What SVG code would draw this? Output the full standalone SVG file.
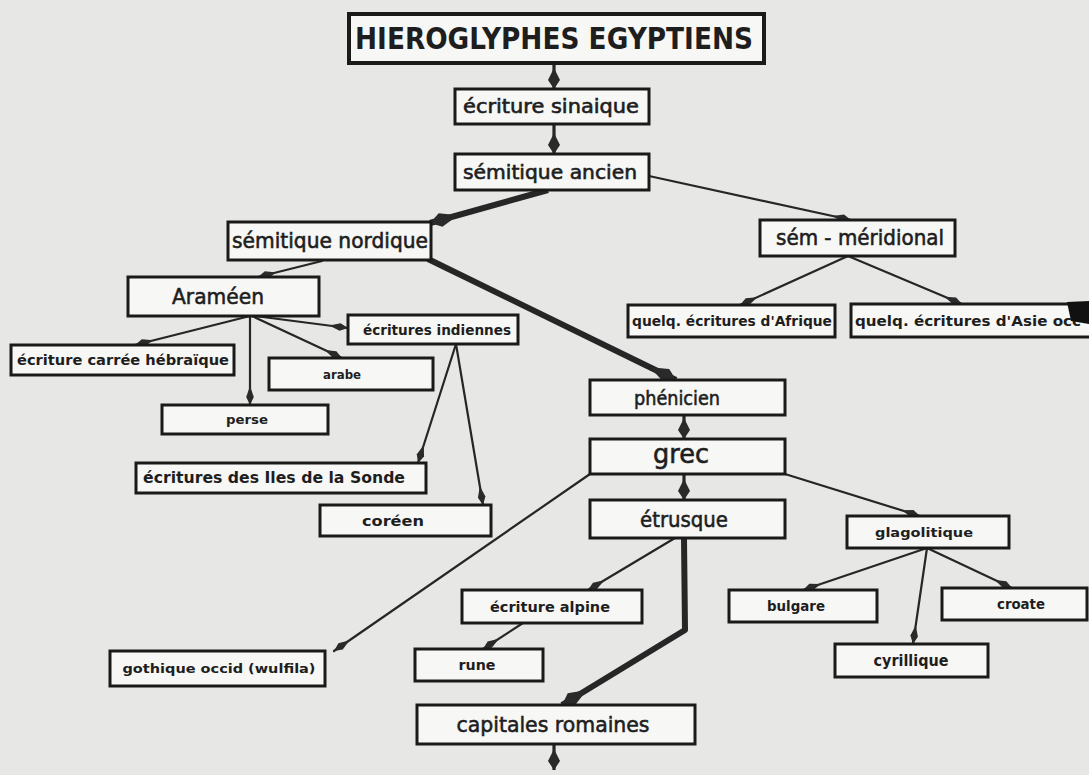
<svg xmlns="http://www.w3.org/2000/svg" width="1089" height="775" viewBox="0 0 1089 775">
<defs>
<style>
.bx{fill:#f7f7f5;stroke:#1a1a1a;stroke-width:3}
.t{font-family:"DejaVu Sans",sans-serif;fill:#1e1e1e;text-anchor:middle}
.b{font-weight:bold}
.m{stroke:#1e1e1e;stroke-width:0.6}
.ln{fill:none;stroke:#262626;stroke-width:2.2;stroke-linecap:round}
.md{fill:none;stroke:#262626;stroke-width:3.2}
.tk{fill:none;stroke:#262626;stroke-width:6;stroke-linejoin:round}
</style>
<marker id="as" markerUnits="userSpaceOnUse" viewBox="-20 -5 22 10" refX="0" refY="0" markerWidth="22" markerHeight="10" orient="auto"><path d="M0,0 L-8,-3.8 L-19,0 L-8,3.8 Z" fill="#2a2a2a"/></marker>
<marker id="am" markerUnits="userSpaceOnUse" viewBox="-22 -7 24 14" refX="0" refY="0" markerWidth="24" markerHeight="14" orient="auto"><path d="M0,0 L-9,-6 L-21,0 L-9,6 Z" fill="#2a2a2a"/></marker>
<marker id="al" markerUnits="userSpaceOnUse" viewBox="-30 -8 32 16" refX="0" refY="0" markerWidth="32" markerHeight="16" orient="auto"><path d="M0,0 L-11,-7 L-29,0 L-11,7 Z" fill="#2a2a2a"/></marker>
</defs>
<rect x="0" y="0" width="1089" height="775" fill="#e7e7e5"/>

<g id="connectors">
<line class="md" x1="554" y1="63" x2="554" y2="89" marker-end="url(#am)"/>
<line class="md" x1="554" y1="124" x2="554" y2="154" marker-end="url(#am)"/>
<line class="tk" x1="548" y1="190" x2="430" y2="223" marker-end="url(#al)"/>
<line class="ln" x1="649" y1="176" x2="851" y2="220" marker-end="url(#as)"/>
<line class="ln" x1="322" y1="261" x2="258" y2="277" marker-end="url(#as)"/>
<line class="tk" x1="428" y1="259" x2="676" y2="380" marker-end="url(#al)"/>
<line class="ln" x1="848" y1="256" x2="740" y2="305" marker-end="url(#as)"/>
<line class="ln" x1="848" y1="256" x2="962" y2="304" marker-end="url(#as)"/>
<line class="ln" x1="250" y1="316" x2="135" y2="345" marker-end="url(#as)"/>
<line class="ln" x1="250" y1="316" x2="250" y2="405" marker-end="url(#as)"/>
<line class="ln" x1="252" y1="316" x2="342" y2="358" marker-end="url(#as)"/>
<line class="ln" x1="255" y1="316" x2="348" y2="328" marker-end="url(#as)"/>
<line class="ln" x1="456" y1="344" x2="418" y2="463" marker-end="url(#as)"/>
<line class="ln" x1="456" y1="344" x2="483" y2="505" marker-end="url(#as)"/>
<line class="md" x1="684" y1="415" x2="684" y2="439" marker-end="url(#am)"/>
<line class="md" x1="684" y1="474" x2="684" y2="500" marker-end="url(#am)"/>
<line class="ln" x1="590" y1="474" x2="334" y2="651" marker-end="url(#as)"/>
<line class="ln" x1="785" y1="474" x2="920" y2="516" marker-end="url(#as)"/>
<line class="ln" x1="675" y1="538" x2="588" y2="590" marker-end="url(#as)"/>
<path class="tk" d="M684,538 L685,630 L562,705" marker-end="url(#al)"/>
<line class="ln" x1="523" y1="623" x2="483" y2="649" marker-end="url(#as)"/>
<line class="ln" x1="927" y1="548" x2="803" y2="590" marker-end="url(#as)"/>
<line class="ln" x1="927" y1="548" x2="913" y2="644" marker-end="url(#as)"/>
<line class="ln" x1="927" y1="548" x2="1012" y2="588" marker-end="url(#as)"/>
<line class="md" x1="554" y1="744" x2="554" y2="770" marker-end="url(#am)"/>
</g>

<g id="n-hieroglyphes"><rect class="bx" x="349" y="14" width="415" height="49" style="stroke-width:4"/><text class="t b" x="554" y="49" font-size="30" textLength="398" lengthAdjust="spacingAndGlyphs">HIEROGLYPHES EGYPTIENS</text></g>
<g id="n-sinaique"><rect class="bx" x="455" y="89" width="194" height="35"/><text class="t m" x="551" y="113" font-size="19" textLength="176" lengthAdjust="spacingAndGlyphs">écriture sinaique</text></g>
<g id="n-ancien"><rect class="bx" x="455" y="154" width="194" height="36"/><text class="t m" x="550" y="178.5" font-size="19" textLength="174" lengthAdjust="spacingAndGlyphs">sémitique ancien</text></g>
<g id="n-nordique"><rect class="bx" x="228" y="222" width="203" height="38"/><text class="t m" x="330" y="248" font-size="21" textLength="196" lengthAdjust="spacingAndGlyphs">sémitique nordique</text></g>
<g id="n-meridional"><rect class="bx" x="760" y="220" width="195" height="36"/><text class="t m" x="860" y="245" font-size="21" textLength="168" lengthAdjust="spacingAndGlyphs">sém - méridional</text></g>
<g id="n-arameen"><rect class="bx" x="128" y="277" width="191" height="39"/><text class="t m" x="218" y="304" font-size="22" textLength="92" lengthAdjust="spacingAndGlyphs">Araméen</text></g>
<g id="n-indiennes"><rect class="bx" x="348" y="315" width="170" height="29"/><text class="t b" x="437" y="334.5" font-size="14" textLength="148" lengthAdjust="spacingAndGlyphs">écritures indiennes</text></g>
<g id="n-carree"><rect class="bx" x="11" y="345" width="223" height="30"/><text class="t b" x="123" y="365" font-size="14" textLength="212" lengthAdjust="spacingAndGlyphs">écriture carrée hébraïque</text></g>
<g id="n-arabe"><rect class="bx" x="269" y="358" width="164" height="32"/><text class="t b" x="342" y="378.5" font-size="13" textLength="38" lengthAdjust="spacingAndGlyphs">arabe</text></g>
<g id="n-perse"><rect class="bx" x="162" y="405" width="166" height="29"/><text class="t b" x="247" y="424" font-size="13" textLength="42" lengthAdjust="spacingAndGlyphs">perse</text></g>
<g id="n-sonde"><rect class="bx" x="136" y="463" width="290" height="30"/><text class="t b" x="274" y="483" font-size="15" textLength="262" lengthAdjust="spacingAndGlyphs">écritures des Iles de la Sonde</text></g>
<g id="n-coreen"><rect class="bx" x="320" y="505" width="171" height="31"/><text class="t b" x="393" y="525.5" font-size="14" textLength="62" lengthAdjust="spacingAndGlyphs">coréen</text></g>
<g id="n-afrique"><rect class="bx" x="628" y="305" width="207" height="32"/><text class="t b" x="732" y="326" font-size="14" textLength="200" lengthAdjust="spacingAndGlyphs">quelq. écritures d'Afrique</text></g>
<g id="n-asie"><rect class="bx" x="851" y="304" width="245" height="33"/><text class="t b" x="855" y="325.5" font-size="14" style="text-anchor:start" textLength="226" lengthAdjust="spacingAndGlyphs">quelq. écritures d'Asie occ</text><polygon points="1067,302 1089,301 1089,324 1071,321" fill="#111"/></g>
<g id="n-phenicien"><rect class="bx" x="590" y="380" width="195" height="35"/><text class="t m" x="677" y="404.5" font-size="20" textLength="86" lengthAdjust="spacingAndGlyphs">phénicien</text></g>
<g id="n-grec"><rect class="bx" x="590" y="439" width="195" height="35"/><text class="t m" x="681" y="463" font-size="26" textLength="56" lengthAdjust="spacingAndGlyphs">grec</text></g>
<g id="n-etrusque"><rect class="bx" x="590" y="500" width="195" height="38"/><text class="t m" x="684" y="526.5" font-size="22" textLength="88" lengthAdjust="spacingAndGlyphs">étrusque</text></g>
<g id="n-glagolitique"><rect class="bx" x="847" y="516" width="162" height="32"/><text class="t b" x="924" y="536.5" font-size="13" textLength="98" lengthAdjust="spacingAndGlyphs">glagolitique</text></g>
<g id="n-alpine"><rect class="bx" x="462" y="590" width="180" height="33"/><text class="t b" x="550" y="611.5" font-size="14" textLength="120" lengthAdjust="spacingAndGlyphs">écriture alpine</text></g>
<g id="n-bulgare"><rect class="bx" x="729" y="590" width="148" height="32"/><text class="t b" x="796" y="611" font-size="14" textLength="58" lengthAdjust="spacingAndGlyphs">bulgare</text></g>
<g id="n-croate"><rect class="bx" x="942" y="588" width="145" height="32"/><text class="t b" x="1021" y="609" font-size="14" textLength="48" lengthAdjust="spacingAndGlyphs">croate</text></g>
<g id="n-cyrillique"><rect class="bx" x="835" y="644" width="153" height="33"/><text class="t b" x="911" y="665.5" font-size="15" textLength="75" lengthAdjust="spacingAndGlyphs">cyrillique</text></g>
<g id="n-rune"><rect class="bx" x="415" y="649" width="128" height="32"/><text class="t b" x="477" y="670" font-size="14" textLength="37" lengthAdjust="spacingAndGlyphs">rune</text></g>
<g id="n-gothique"><rect class="bx" x="110" y="651" width="215" height="35"/><text class="t b" x="219" y="673" font-size="13" textLength="193" lengthAdjust="spacingAndGlyphs">gothique occid (wulfila)</text></g>
<g id="n-capitales"><rect class="bx" x="417" y="705" width="278" height="39"/><text class="t m" x="553" y="732" font-size="22" textLength="193" lengthAdjust="spacingAndGlyphs">capitales romaines</text></g>
</svg>
